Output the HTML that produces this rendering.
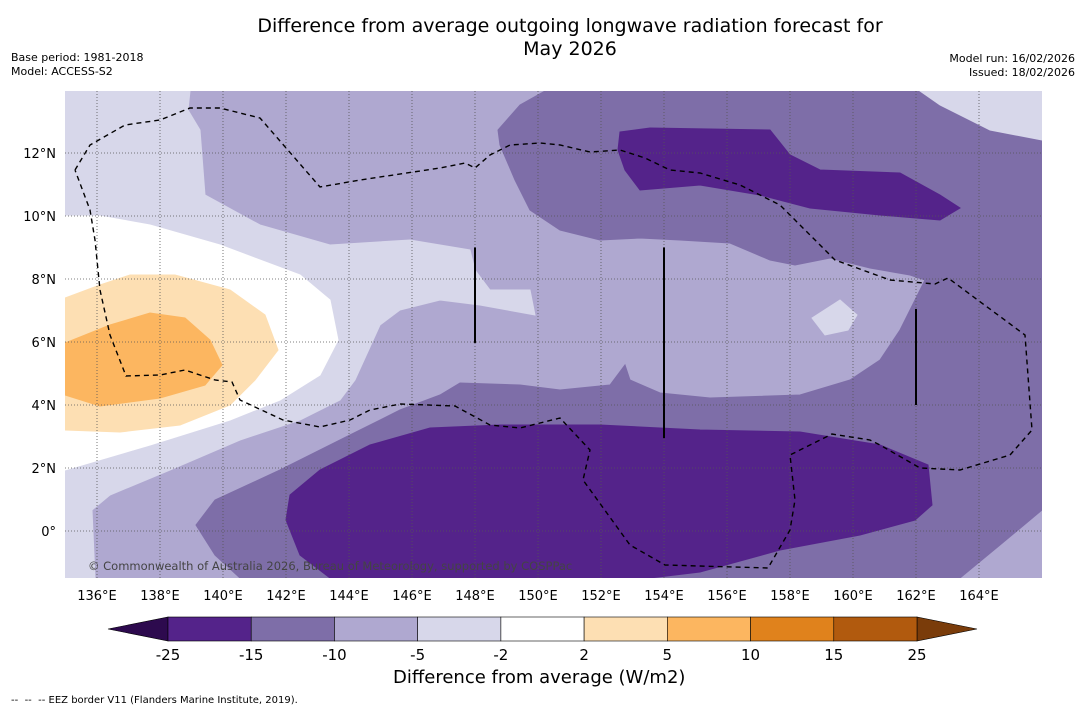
<!DOCTYPE html>
<html><head><meta charset="utf-8"><style>
body{margin:0;background:#fff;font-family:"DejaVu Sans","Liberation Sans",sans-serif;}
#wrap{position:relative;width:1085px;height:713px;overflow:hidden;}
.t{position:absolute;white-space:nowrap;color:#000;}
</style></head><body>
<div id="wrap">
<div class="t" style="left:0;width:1140px;top:15px;text-align:center;font-size:19px;line-height:23px;">Difference from average outgoing longwave radiation forecast for<br>May 2026</div>
<div class="t" style="left:11px;top:51px;font-size:11px;line-height:14px;">Base period: 1981-2018<br>Model: ACCESS-S2</div>
<div class="t" style="right:10px;top:52px;font-size:11px;line-height:14px;text-align:right;">Model run: 16/02/2026<br>Issued: 18/02/2026</div>
<svg id="map" width="1085" height="713" style="position:absolute;left:0;top:0"></svg>
<div class="t" style="left:393px;top:667px;font-size:18px;">Difference from average (W/m2)</div>
<div class="t" style="left:11px;top:695px;font-size:10px;">-- &nbsp;-- &nbsp;-- EEZ border V11 (Flanders Marine Institute, 2019).</div>
</div>
<script>
const NS="http://www.w3.org/2000/svg";
const svg=document.getElementById('map');
const FONT='DejaVu Sans, Liberation Sans, sans-serif';
const X0=65,X1=1042,Y0=91,Y1=578;
function px(lon){return 97+(lon-136)*31.5;}
function py(lat){return 531-lat*31.5;}
function fx(x){return 136+(x-97)/31.5;}
function fy(y){return (531-y)/31.5;}
const levels=[-25,-15,-10,-5,-2,2,5,10,15,25];
const colors=["#54238a","#7e6ea8","#afa8d0","#d7d7ea","#ffffff","#fddfb3","#fcb660","#e0821c","#b15a0e"];
const lonTicks=[136,138,140,142,144,146,148,150,152,154,156,158,160,162,164];
const latTicks=[0,2,4,6,8,10,12];
function P(a){return a.map(p=>[fx(p[0]),fy(p[1])]);}
const regLight=P([[65,91],[190,91],[188,110],[200,130],[205,195],[260,225],[330,245],[410,240],[470,250],[475,270],[490,290],[530,290],[535,315],[480,305],[440,300],[400,310],[380,325],[355,380],[340,400],[300,420],[240,440],[170,470],[110,495],[92,510],[95,578],[65,578]]);
const regLightTR=P([[920,91],[1042,91],[1042,140],[990,130],[940,105]]);
const regLightPatch=P([[812,318],[840,300],[857,315],[848,330],[825,335]]);
const regWhite=P([[65,216],[100,216],[150,225],[220,245],[300,275],[330,300],[338,340],[320,375],[280,400],[230,420],[150,445],[65,470]]);
const regOr1=P([[65,298],[100,285],[130,275],[175,275],[230,290],[265,315],[278,350],[255,380],[230,405],[180,425],[120,432],[65,430]]);
const regOr2=P([[65,343],[110,325],[150,313],[185,318],[210,340],[222,365],[205,385],[160,398],[100,406],[65,395]]);
const regDark=P([[500,145],[498,130],[520,105],[545,91],[920,91],[940,105],[990,130],[1042,140],[1042,510],[1000,545],[960,578],[240,578],[215,555],[196,525],[215,500],[280,470],[350,435],[400,410],[440,395],[460,383],[520,385],[560,390],[610,385],[625,365],[630,380],[660,393],[710,398],[800,395],[850,380],[880,360],[900,330],[915,300],[925,280],[910,275],[870,268],[830,258],[795,265],[770,260],[730,243],[680,240],[640,238],[600,240],[560,230],[530,210],[515,180]]);
const regDarkest1=P([[620,132],[650,128],[770,130],[790,155],[820,170],[900,173],[940,195],[960,208],[940,220],[880,215],[810,208],[760,195],[700,185],[640,190],[625,170],[618,150]]);
const regDarkest2=P([[290,495],[320,470],[370,445],[430,428],[500,425],[600,425],[700,430],[800,432],[880,445],[928,465],[932,505],[915,520],[860,535],[780,550],[700,572],[650,578],[330,578],[300,555],[286,520]]);
const eez=P([[75,170],[90,145],[125,125],[160,120],[190,108],[220,108],[260,118],[320,187],[360,180],[440,168],[465,163],[475,168],[490,155],[510,145],[540,143],[560,145],[590,152],[620,150],[645,158],[670,170],[700,173],[740,185],[780,205],[800,225],[835,260],[890,280],[935,284],[948,278],[1025,335],[1032,430],[1010,455],[960,470],[920,468],[880,445],[870,440],[832,434],[790,455],[795,500],[790,530],[768,568],[665,565],[630,545],[583,480],[590,450],[560,418],[520,428],[490,425],[455,406],[400,404],[370,410],[350,420],[320,427],[283,420],[240,400],[232,382],[215,380],[185,370],[160,375],[126,376],[110,335],[100,290],[95,240],[90,210],[75,170]]);
const vLines=[[148,5.97,9],[154,2.95,9],[162,4,7.05]];

function el(t,a,name,par){const e=document.createElementNS(NS,t);for(const k in a)e.setAttribute(k,a[k]);


(par||svg).appendChild(e);return e;}
const defs=el('defs',{},'defs');
const cp=el('clipPath',{id:'clip'},'clip',defs);el('rect',{x:X0,y:Y0,width:X1-X0,height:Y1-Y0},'clip-rect',cp);
const g=el('g',{'clip-path':'url(#clip)'},'map-area');
el('rect',{x:X0,y:Y0,width:X1-X0,height:Y1-Y0,fill:colors[2]},'base-fill',g);
function poly(r,c,n){el('polygon',{points:r.map(p=>px(p[0])+','+py(p[1])).join(' '),fill:c,stroke:c,'stroke-width':1},n,g);}
poly(regDark,colors[1],'region-minus15');
poly(regDarkest1,colors[0],'region-minus25-north');
poly(regDarkest2,colors[0],'region-minus25-south');
poly(regLight,colors[3],'region-minus5-west');
poly(regLightTR,colors[3],'region-minus5-ne');
poly(regLightPatch,colors[3],'region-minus5-patch');
poly(regWhite,colors[4],'region-neutral');
poly(regOr1,colors[5],'region-plus2');
poly(regOr2,colors[6],'region-plus5');
lonTicks.forEach(t=>{el('line',{x1:px(t),x2:px(t),y1:Y0,y2:Y1,stroke:'#555','stroke-width':0.8,'stroke-dasharray':'1,2'},'lon-gridline',g);});
latTicks.forEach(t=>{el('line',{x1:X0,x2:X1,y1:py(t),y2:py(t),stroke:'#555','stroke-width':0.8,'stroke-dasharray':'1,2'},'lat-gridline',g);});
el('polyline',{points:eez.map(p=>px(p[0])+','+py(p[1])).join(' '),fill:'none',stroke:'#000','stroke-width':1.4,'stroke-dasharray':'5,4'},'eez-border',g);
vLines.forEach(v=>el('line',{x1:px(v[0]),x2:px(v[0]),y1:py(v[2]),y2:py(v[1]),stroke:'#000','stroke-width':2},'eez-line',g));
const cr=el('text',{x:88,y:570,'font-size':11.5,fill:'#444','font-family':FONT},'copyright',g);cr.textContent='© Commonwealth of Australia 2026, Bureau of Meteorology, supported by COSPPac';
lonTicks.forEach(t=>{const e=el('text',{x:px(t),y:600,'font-size':13,'text-anchor':'middle','font-family':FONT},'lon-tick-label');e.textContent=t+'°E';});
latTicks.forEach(t=>{const e=el('text',{x:56,y:py(t)+5,'font-size':13,'text-anchor':'end','font-family':FONT},'lat-tick-label');e.textContent=t===0?'0°':t+'°N';});
const cbL=168,cbR=917,cbT=617,cbB=641,bw=(cbR-cbL)/colors.length;
el('polygon',{points:`108,629 ${cbL},${cbT} ${cbL},${cbB}`,fill:'#2d0a4e',stroke:'#000','stroke-width':0.6},'colorbar-extend-low');
el('polygon',{points:`977,629 ${cbR},${cbT} ${cbR},${cbB}`,fill:'#7a3c0a',stroke:'#000','stroke-width':0.6},'colorbar-extend-high');
colors.forEach((c,i)=>el('rect',{x:cbL+i*bw,y:cbT,width:bw,height:cbB-cbT,fill:c,stroke:'#000','stroke-width':0.6},'colorbar-box'));
levels.forEach((v,i)=>{const e=el('text',{x:cbL+i*bw,y:660,'font-size':15,'text-anchor':'middle','font-family':FONT},'colorbar-tick');e.textContent=v;});
</script>
</body></html>
